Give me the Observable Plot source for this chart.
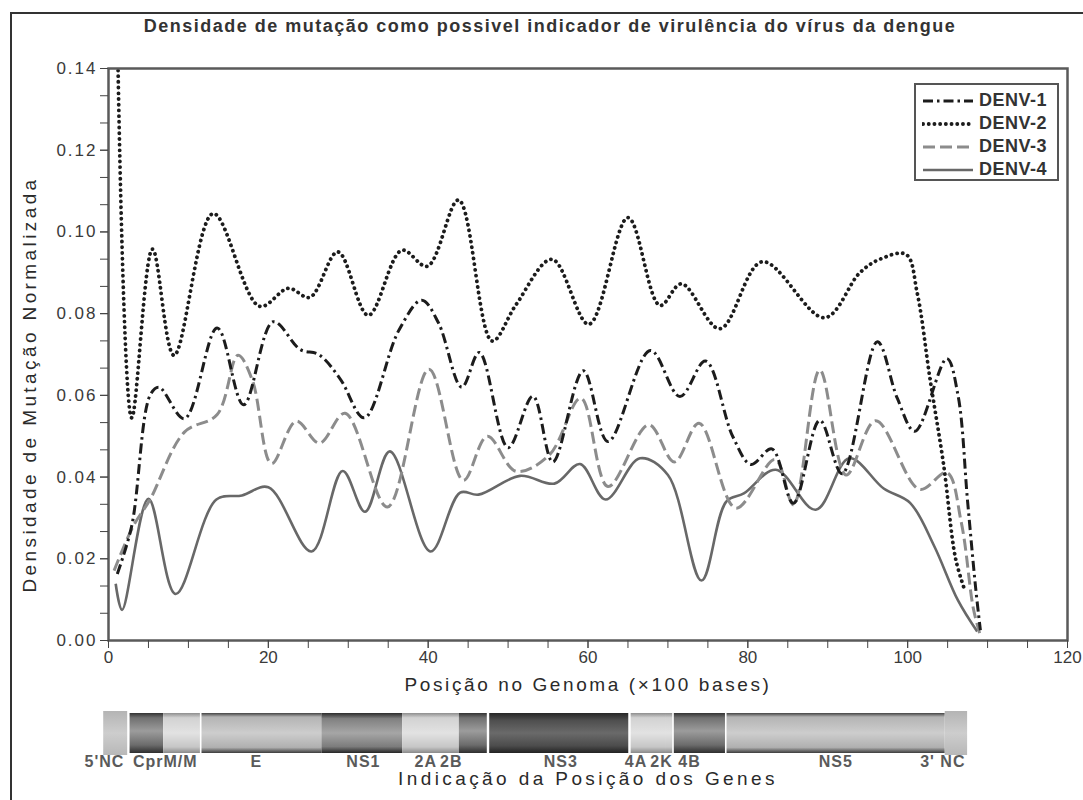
<!DOCTYPE html>
<html><head><meta charset="utf-8">
<script src="https://cdn.jsdelivr.net/npm/d3@7"></script>
<script src="https://cdn.jsdelivr.net/npm/@observablehq/plot@0.6"></script>
<style>
body{margin:0;background:#fff;font-family:"Liberation Sans",Arial,sans-serif;}
#wrap{position:relative;width:1083px;height:800px;overflow:hidden;background:#fff;}
#border{position:absolute;left:10px;top:12px;width:1100px;height:820px;border-left:2px solid #333;border-top:2px solid #333;}
#title{position:absolute;left:0;width:1100px;top:16px;text-align:center;font-weight:bold;font-size:18px;color:#333;letter-spacing:1.5px;white-space:nowrap;}
#main{position:absolute;left:0;top:40px;}
#genes{position:absolute;left:0;top:705px;}
#main text{letter-spacing:2px;}
#genes text{letter-spacing:1px;}
#legend{position:absolute;left:914px;top:83px;width:145px;height:98px;box-sizing:border-box;border:2px solid #555;background:#fff;padding:4px 0 0 6px;}
.row{display:flex;align-items:center;height:23px;}
.row span{font-weight:bold;font-size:18px;color:#333;margin-left:5px;letter-spacing:0.5px;}
</style></head><body>
<div id="wrap">
  <div id="border"></div>
  <div id="title">Densidade de mutação como possivel indicador de virulência do vírus da dengue</div>
  <div id="main"></div>
  <div id="genes"></div>
  <div id="legend"></div>
</div>
<script>
// ---------- data (x in units of 100 bases, y = normalized mutation density) ----------
const seriesNames = ["DENV-1", "DENV-2", "DENV-3", "DENV-4"];

const denv1X = [1.1, 2.9, 5.2, 6.3, 9.5, 13.6, 16.9, 20.6, 24.0, 26.3, 29.0, 32.0, 36.3, 39.2, 41.3, 44.2, 46.4, 50.0, 53.1, 55.6, 59.4, 62.5, 67.8, 71.5, 74.7, 78.1, 80.4, 83.0, 85.7, 89.0, 91.8, 96.2, 98.7, 100.9, 104.9, 106.3, 107.5, 108.5, 109.1];
const denv1Y = [0.0163, 0.028, 0.060, 0.062, 0.0543, 0.0765, 0.0577, 0.0780, 0.0712, 0.0700, 0.0640, 0.0545, 0.0758, 0.0833, 0.0777, 0.0620, 0.0705, 0.0472, 0.0598, 0.0437, 0.0660, 0.0487, 0.0710, 0.0597, 0.0684, 0.0500, 0.0431, 0.0469, 0.0336, 0.0539, 0.0408, 0.0731, 0.0593, 0.0512, 0.0690, 0.0600, 0.0340, 0.0130, 0.0025];

const denv2X = [1.2, 2.9, 5.5, 8.2, 13.1, 18.9, 22.5, 25.2, 28.7, 32.5, 36.7, 39.9, 43.8, 48.0, 51.0, 55.5, 60.1, 65.0, 69.0, 71.7, 76.5, 81.8, 89.6, 94.0, 96.5, 99.8, 101.2, 102.8, 104.5, 106.0, 107.2];
const denv2Y = [0.1395, 0.0545, 0.0958, 0.0698, 0.1045, 0.0818, 0.0862, 0.0840, 0.0951, 0.0796, 0.0955, 0.0916, 0.1078, 0.0733, 0.0822, 0.0933, 0.0774, 0.1035, 0.0820, 0.0873, 0.0763, 0.0927, 0.0790, 0.0900, 0.0933, 0.0945, 0.0850, 0.0640, 0.0430, 0.0200, 0.0120];

const denv3X = [0.7, 3.1, 5.2, 9.5, 13.6, 16.2, 18.0, 20.4, 23.5, 26.4, 29.6, 34.9, 40.1, 44.4, 47.4, 51.0, 55.2, 59.1, 62.5, 67.6, 70.8, 73.9, 78.5, 83.4, 85.7, 89.0, 92.3, 96.0, 101.5, 104.9, 106.7, 108.2, 109.0];
const denv3Y = [0.0171, 0.028, 0.0345, 0.051, 0.0553, 0.0698, 0.0637, 0.0433, 0.0537, 0.0483, 0.0556, 0.0327, 0.0664, 0.0392, 0.0500, 0.0414, 0.0455, 0.0593, 0.0377, 0.0528, 0.0437, 0.0532, 0.0324, 0.0443, 0.0332, 0.0662, 0.0405, 0.0538, 0.0370, 0.0411, 0.0290, 0.0080, 0.0018];

const denv4X = [0.9, 1.7, 5.0, 8.4, 13.5, 16.7, 20.0, 25.4, 29.3, 32.1, 35.2, 40.3, 44.0, 46.3, 51.5, 55.8, 59.0, 62.2, 66.5, 70.0, 74.2, 77.3, 79.5, 83.5, 88.5, 92.7, 97.0, 100.3, 103.3, 106.3, 108.7];
const denv4Y = [0.0139, 0.0075, 0.0347, 0.0114, 0.0345, 0.0355, 0.0375, 0.0218, 0.0415, 0.0315, 0.0463, 0.0218, 0.0362, 0.0357, 0.0403, 0.0384, 0.0432, 0.0345, 0.0446, 0.0405, 0.0147, 0.0340, 0.0360, 0.0418, 0.0320, 0.0446, 0.0372, 0.0337, 0.0232, 0.0098, 0.0022];

// axis ticks
const xMajorTicks = [0, 20, 40, 60, 80, 100, 120];
const xMinorTicks = d3.range(0, 121, 5);
const yMajorTicks = [0.00, 0.02, 0.04, 0.06, 0.08, 0.10, 0.12, 0.14];
const yMinorTicks = d3.range(0, 0.1401, 0.02 / 3);

// gene map
const geneNames  = ["5'NC", "C", "prM/M", "E", "NS1", "2A", "2B", "NS3", "4A", "2K", "4B", "NS5", "3'NC"];
const geneStart  = [-0.6, 2.7, 6.9, 11.7, 26.7, 36.8, 43.9, 47.7, 65.4, 69.7, 70.8, 77.4, 104.7];
const geneEnd    = [2.4, 6.9, 11.5, 26.7, 36.8, 43.9, 47.4, 65.1, 69.7, 70.6, 77.2, 104.7, 107.5];
const geneLabels = ["5'NC", "CprM/M", "E", "NS1", "2A", "2B", "NS3", "4A", "2K", "4B", "NS5", "3' NC"];
const geneLabelX = [-0.5, 7.1, 18.5, 31.9, 39.7, 42.9, 56.6, 66.0, 69.2, 72.7, 91.0, 104.4];

const title = "Densidade de mutação como possivel indicador de virulência do vírus da dengue";
const xLabel = "Posição no Genoma (×100 bases)";
const yLabel = "Densidade de Mutação Normalizada";
const geneCaption = "Indicação da Posição dos Genes";

// ---------- styles ----------
const lineStyle = {
  "DENV-1": {stroke: "#1c1c1c", strokeWidth: 3, strokeDasharray: "10,4,2.5,4", strokeLinecap: "butt"},
  "DENV-2": {stroke: "#1c1c1c", strokeWidth: 3.8, strokeDasharray: "0.1,5.6", strokeLinecap: "round"},
  "DENV-3": {stroke: "#8c8c8c", strokeWidth: 3, strokeDasharray: "12,5", strokeLinecap: "butt"},
  "DENV-4": {stroke: "#686868", strokeWidth: 2.6, strokeDasharray: null, strokeLinecap: "butt"}
};
const geneShade = {
  "5'NC": "flat", "C": "dark", "prM/M": "light", "E": "pale", "NS1": "mid", "2A": "light",
  "2B": "dark", "NS3": "deep", "4A": "light", "2K": "light", "4B": "dark", "NS5": "pale", "3'NC": "flat"
};
const gradients = {
  flat:  [["0%", "#b4b4b4"], ["50%", "#cdcdcd"], ["100%", "#b8b8b8"]],
  dark:  [["0%", "#333"], ["12%", "#707070"], ["45%", "#9c9c9c"], ["80%", "#6c6c6c"], ["100%", "#2e2e2e"]],
  light: [["0%", "#8e8e8e"], ["12%", "#d2d2d2"], ["50%", "#e2e2e2"], ["85%", "#c6c6c6"], ["100%", "#8a8a8a"]],
  pale:  [["0%", "#444"], ["10%", "#b4b4b4"], ["50%", "#cdcdcd"], ["86%", "#b0b0b0"], ["100%", "#3c3c3c"]],
  mid:   [["0%", "#2c2c2c"], ["14%", "#808080"], ["50%", "#a6a6a6"], ["84%", "#7c7c7c"], ["100%", "#262626"]],
  deep:  [["0%", "#262626"], ["18%", "#4e4e4e"], ["50%", "#6a6a6a"], ["82%", "#4c4c4c"], ["100%", "#222"]]
};

// ---------- build tables ----------
const seriesXY = {"DENV-1": [denv1X, denv1Y], "DENV-2": [denv2X, denv2Y], "DENV-3": [denv3X, denv3Y], "DENV-4": [denv4X, denv4Y]};
const rows = seriesNames.flatMap(s => seriesXY[s][0].map((x, i) => ({series: s, x, y: seriesXY[s][1][i]})));
const genes = geneNames.map((g, i) => ({gene: g, start: geneStart[i], end: geneEnd[i]}));
const geneLabelRows = geneLabels.map((l, i) => ({label: l, x: geneLabelX[i]}));

const font = "Liberation Sans, Arial, sans-serif";
const W = 1083, ML = 108, MR = 16;

// ---------- main chart ----------
const drawOrder = ["DENV-4", "DENV-3", "DENV-1", "DENV-2"];
const main = Plot.plot({
  width: W, height: 670,
  marginLeft: ML, marginRight: MR, marginTop: 28, marginBottom: 70,
  style: {fontFamily: font, fontSize: "17px", color: "#3a3a3a", background: "transparent"},
  x: {domain: [0, 120]},
  y: {domain: [0, 0.14]},
  marks: [
    ...drawOrder.map(s => Plot.line(rows.filter(d => d.series === s), {
      x: "x", y: "y", curve: "catmull-rom", clip: true, ...lineStyle[s]
    })),
    Plot.frame({stroke: "#5a5a5a", strokeWidth: 2.5}),
    Plot.axisY(yMinorTicks, {tickSize: 8, tickFormat: () => "", label: null, stroke: "#444"}),
    Plot.axisY(yMajorTicks, {tickSize: 8, tickPadding: 3, tickFormat: d3.format(".2f"), label: null, fontSize: 17, stroke: "#444"}),
    Plot.axisX(xMinorTicks, {tickSize: 8, tickFormat: () => "", label: null, stroke: "#444"}),
    Plot.axisX(xMajorTicks, {tickSize: 8, tickPadding: 2, label: null, fontSize: 17, stroke: "#444"}),
    Plot.text([xLabel], {text: d => d, frameAnchor: "bottom", dy: 50, fontSize: 19, fill: "#2a2a2a"}),
    Plot.text([yLabel], {text: d => d, frameAnchor: "left", textAnchor: "middle", rotate: -90, dx: -79, dy: 30, fontSize: 19, fill: "#2a2a2a"})
  ]
});
const sel = d3.select(main);
sel.selectAll("text").filter(function() { return this.textContent === yLabel; }).style("letter-spacing", "3.4px");
sel.selectAll("text").filter(function() { return this.textContent === xLabel; }).style("letter-spacing", "2.6px");
sel.selectAll("text").filter(function() { return xMajorTicks.map(String).includes(this.textContent); }).style("letter-spacing", "0px");
document.getElementById("main").appendChild(main);

// ---------- gene bar ----------
const defsMark = () => {
  const defs = d3.create("svg:defs");
  for (const [id, stops] of Object.entries(gradients)) {
    const g = defs.append("linearGradient").attr("id", "gene-" + id).attr("x1", 0).attr("y1", 0).attr("x2", 0).attr("y2", 1);
    for (const [o, c] of stops) g.append("stop").attr("offset", o).attr("stop-color", c);
  }
  return defs.node();
};
const geneChart = Plot.plot({
  width: W, height: 95,
  marginLeft: ML, marginRight: MR, marginTop: 8, marginBottom: 47,
  style: {fontFamily: font, fontSize: "16px", color: "#333", background: "transparent", overflow: "visible"},
  x: {domain: [0, 120], axis: null},
  marks: [
    defsMark,
    ...genes.map(g => Plot.rect([g], {
      x1: "start", x2: "end",
      fill: `url(#gene-${geneShade[g.gene]})`,
      insetTop: geneShade[g.gene] === "flat" ? -2 : 0,
      insetBottom: geneShade[g.gene] === "flat" ? -2 : 0
    })),
    Plot.text(geneLabelRows, {x: "x", text: "label", frameAnchor: "bottom", dy: 13, fontSize: 16, fontWeight: "bold", fill: "#5a5a5a"}),
    Plot.text([geneCaption], {text: d => d, frameAnchor: "bottom", dy: 31, fontSize: 19, fill: "#2a2a2a"})
  ]
});
d3.select(geneChart).selectAll("text").filter(function() { return this.textContent === geneCaption; }).style("letter-spacing", "3.4px");
document.getElementById("genes").appendChild(geneChart);

// ---------- legend ----------
const legend = d3.select("#legend");
for (const s of seriesNames) {
  const st = lineStyle[s];
  const row = legend.append("div").attr("class", "row");
  const svg = row.append("svg").attr("width", 52).attr("height", 10);
  svg.append("line").attr("x1", 1).attr("x2", 51).attr("y1", 5).attr("y2", 5)
    .attr("stroke", st.stroke).attr("stroke-width", st.strokeWidth)
    .attr("stroke-dasharray", st.strokeDasharray).attr("stroke-linecap", st.strokeLinecap);
  row.append("span").text(s);
}
</script>
</body></html>
